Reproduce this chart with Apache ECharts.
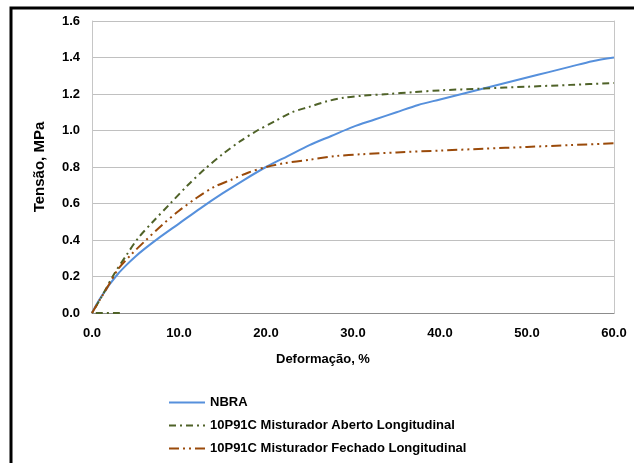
<!DOCTYPE html>
<html>
<head>
<meta charset="utf-8">
<script src="https://cdn.jsdelivr.net/npm/echarts@6/dist/echarts.min.js"></script>
<style>
html,body{margin:0;padding:0;background:#fff;}
#chart{width:634px;height:463px;}
</style>
</head>
<body>
<div id="chart"></div>
<script>
var seriesNames = [
  'NBRA',
  '10P91C Misturador Aberto Longitudinal',
  '10P91C Misturador Fechado Longitudinal'
];
var xTicks = [0, 10, 20, 30, 40, 50, 60];
var yTicks = [0, 0.2, 0.4, 0.6, 0.8, 1.0, 1.2, 1.4, 1.6];
var xAxisTitle = 'Deformação, %';
var yAxisTitle = 'Tensão, MPa';

var nbra = [[0,0],[0.5,0.045],[1,0.085],[1.5,0.12],[2,0.155],[3,0.215],[4,0.265],[5,0.31],[6,0.35],[7.5,0.405],[10,0.49],[12.5,0.575],[15,0.655],[17.5,0.73],[20,0.80],[22.5,0.86],[25,0.92],[27.5,0.97],[30,1.02],[32.5,1.06],[35,1.10],[37.5,1.14],[40,1.17],[42.5,1.20],[45,1.23],[47.5,1.26],[50,1.29],[52.5,1.32],[55,1.35],[57.5,1.38],[60,1.40]];
var aberto = [[3.2,0],[0,0],[1,0.08],[2.5,0.21],[4,0.32],[5.3,0.41],[7,0.50],[9,0.60],[11,0.70],[13,0.79],[15,0.87],[17,0.94],[19,1.00],[21,1.05],[23,1.10],[25,1.13],[27,1.16],[29,1.18],[31,1.19],[34,1.20],[37,1.21],[40,1.22],[45,1.23],[50,1.24],[55,1.25],[60,1.26]];
var fechado = [[0,0],[1,0.08],[2,0.16],[3,0.24],[4.5,0.32],[6,0.39],[8,0.48],[10,0.56],[12,0.63],[14,0.69],[16,0.73],[18,0.77],[20,0.80],[22,0.82],[25,0.84],[28,0.86],[31,0.87],[35,0.88],[40,0.89],[45,0.90],[50,0.91],[55,0.92],[60,0.93]];

var FONT = '"Liberation Sans", Arial, sans-serif';
var chart = echarts.init(document.getElementById('chart'), null, {renderer:'canvas'});
var option = {
  backgroundColor: '#ffffff',
  animation: false,
  grid: {left: 92, right: 20, top: 21, bottom: 150, containLabel: false},
  xAxis: {
    type: 'value', min: xTicks[0], max: xTicks[xTicks.length-1], interval: 10,
    axisLine: {show: true, lineStyle: {color: '#8c8c8c', width: 1}},
    axisTick: {show: false},
    splitLine: {show: false},
    axisLabel: {color: '#000', fontFamily: FONT, fontWeight: 'bold', fontSize: 13, margin: 14,
      formatter: function(v){ return v.toFixed(1); }}
  },
  yAxis: [{
    type: 'value', min: yTicks[0], max: yTicks[yTicks.length-1], interval: 0.2,
    name: yAxisTitle, nameLocation: 'middle', nameGap: 45, nameRotate: 90,
    nameTextStyle: {color: '#000', fontFamily: FONT, fontWeight: 'bold', fontSize: 15},
    axisLine: {show: true, lineStyle: {color: '#c6c6c6', width: 1}},
    axisTick: {show: false},
    splitLine: {show: true, lineStyle: {color: '#c0c0c0', width: 1}},
    axisLabel: {color: '#000', fontFamily: FONT, fontWeight: 'bold', fontSize: 13, margin: 12,
      formatter: function(v){ return v.toFixed(1); }}
  },{
    type: 'value', position: 'right', min: 0, max: 1.6, interval: 0.2,
    axisLine: {show: true, lineStyle: {color: '#c6c6c6', width: 1}},
    axisTick: {show: false}, axisLabel: {show: false}, splitLine: {show: false}
  }],
  legend: {
    orient: 'vertical', left: 163, top: 391, itemGap: 10, itemWidth: 36, itemHeight: 14,
    itemStyle: {opacity: 0},
    textStyle: {color: '#000', fontFamily: FONT, fontWeight: 'bold', fontSize: 13},
    data: seriesNames
  },
  graphic: [
    {type: 'rect', shape: {x: 11, y: 8, width: 700, height: 500}, style: {fill: 'none', stroke: '#000', lineWidth: 3}, silent: true},
    {type: 'text', left: 276, top: 353, style: {text: xAxisTitle, fill: '#000', font: 'bold 13px ' + FONT}}
  ],
  series: [
    {name: seriesNames[0], type: 'line', data: nbra, showSymbol: false, symbol: 'none', smooth: 0.3,
      lineStyle: {color: '#5690dc', width: 2}, itemStyle: {color: '#5690dc'}},
    {name: seriesNames[1], type: 'line', data: aberto, showSymbol: false, symbol: 'none', smooth: 0.3,
      lineStyle: {color: '#4f6228', width: 2, type: [7, 4, 2, 4]}, itemStyle: {color: '#4f6228'}},
    {name: seriesNames[2], type: 'line', data: fechado, showSymbol: false, symbol: 'none', smooth: 0.3,
      lineStyle: {color: '#9a4a0a', width: 2, type: [10, 4, 2, 4, 2, 4]}, itemStyle: {color: '#9a4a0a'}}
  ]
};
chart.setOption(option);
</script>
</body>
</html>
